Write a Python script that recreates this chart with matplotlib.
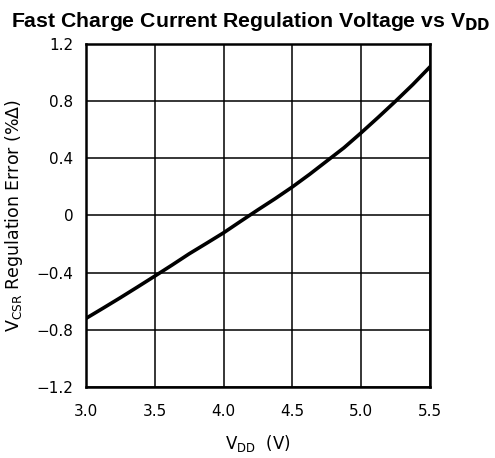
import matplotlib.pyplot as plt
import numpy as np

# supply voltage (V) and regulation error (%)
vdd = [3.0, 3.125, 3.25, 3.375, 3.5, 3.625, 3.75, 3.875, 4.0, 4.125, 4.25,
       4.375, 4.5, 4.625, 4.75, 4.875, 5.0, 5.125, 5.25, 5.375, 5.5]
err = [-0.72, -0.648, -0.575, -0.50, -0.424, -0.347, -0.268, -0.195, -0.121, -0.04, 0.04,
       0.118, 0.20, 0.288, 0.381, 0.474, 0.579, 0.688, 0.80, 0.916, 1.04]

x_ticks = [3.0, 3.5, 4.0, 4.5, 5.0, 5.5]
y_ticks = [-1.2, -0.8, -0.4, 0, 0.4, 0.8, 1.2]
y_labels = ['\u22121.2', '\u22120.8', '\u22120.4', '0', '0.4', '0.8', '1.2']

fig = plt.figure(figsize=(4.95, 4.58), dpi=100)
ax = fig.add_axes([0.1737, 0.155, 0.695, 0.749])

ax.plot(vdd, err, color='black', linewidth=2.6, solid_joinstyle='round')

ax.set_xlim(3.0, 5.5)
ax.set_ylim(-1.2, 1.2)
ax.set_xticks(x_ticks)
ax.set_xticklabels(['%.1f' % v for v in x_ticks])
ax.set_yticks(y_ticks)
ax.set_yticklabels(y_labels)
ax.grid(True, color='black', linewidth=1.1)
ax.tick_params(length=0, labelsize=11)
ax.tick_params(axis='x', pad=12)
ax.tick_params(axis='y', pad=9)
for s in ax.spines.values():
    s.set_linewidth(1.8)

ax.set_xlabel(r'$\mathregular{V_{DD}}$  (V)', fontsize=12, labelpad=10)
ax.set_ylabel(r'$\mathregular{V_{CSR}}$ Regulation Error (%$\mathregular{\Delta}$)', fontsize=12.5, labelpad=8)

fig.text(0.507, 0.94, r'Fast Charge Current Regulation Voltage vs V$_{\mathbf{DD}}$',
         ha='center', fontsize=15.3, fontweight='bold', family='Liberation Sans')

plt.savefig('out.png', dpi=100)
